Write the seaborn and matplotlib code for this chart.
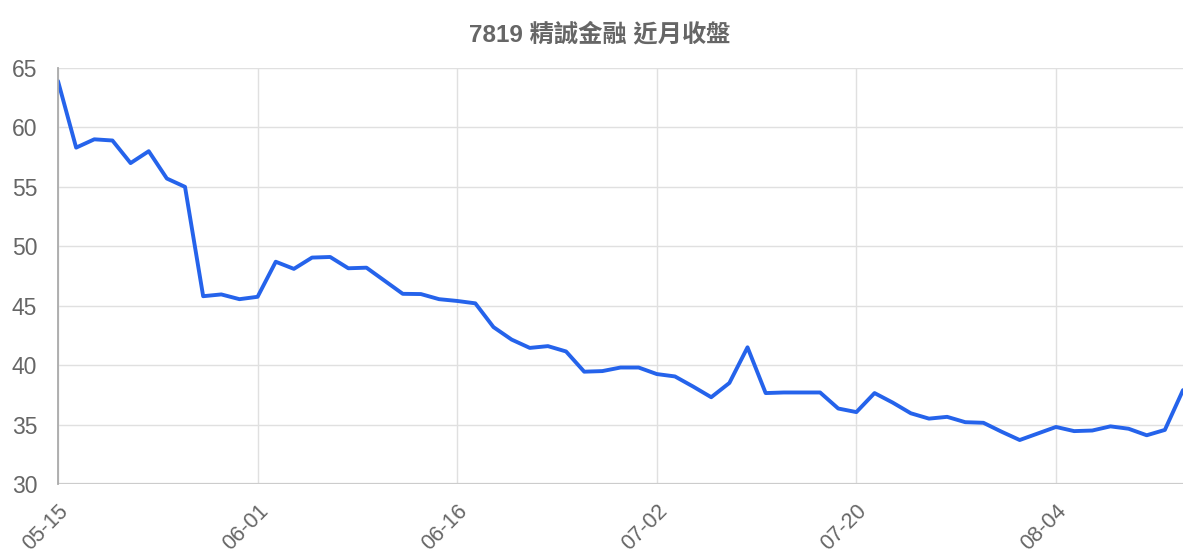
import numpy as np
import pandas as pd
import matplotlib
matplotlib.use("Agg")
import matplotlib.pyplot as plt
import seaborn as sns

# Closing prices (63 trading days)
close = [
    63.9, 58.3, 59.0, 58.9, 57.0, 58.0, 55.7, 55.0, 45.8, 45.95,
    45.55, 45.75, 48.7, 48.1, 49.05, 49.1, 48.15, 48.2, 47.1, 46.0,
    45.98, 45.55, 45.4, 45.2, 43.2, 42.15, 41.45, 41.6, 41.15, 39.45,
    39.5, 39.8, 39.8, 39.25, 39.05, 38.2, 37.3, 38.5, 41.5, 37.65,
    37.7, 37.7, 37.7, 36.35, 36.05, 37.65, 36.85, 35.95, 35.5, 35.65,
    35.2, 35.15, 34.4, 33.7, 34.25, 34.8, 34.45, 34.5, 34.85, 34.65,
    34.1, 34.55, 37.9,
]
tick_labels = ["05-15", "06-01", "06-16", "07-02", "07-20", "08-04"]
tick_step = 11
title = "7819 精誠金融 近月收盤"

df = pd.DataFrame({"day": np.arange(len(close)), "close": close})

sns.set_style("white")
plt.rcParams["font.family"] = ["Liberation Sans", "Noto Sans CJK TC", "DejaVu Sans"]

fig = plt.figure(figsize=(12, 5.6), dpi=100)
ax = fig.add_axes([58 / 1200, 1 - 484 / 560, (1183 - 58) / 1200, (484 - 68) / 560])

sns.lineplot(data=df, x="day", y="close", color="#2563eb", linewidth=2.8, ax=ax)

ax.set_xlim(0, len(close) - 1)
ax.set_ylim(30, 65)
ax.set_yticks(range(30, 66, 5))
ax.set_xticks(range(0, len(close), tick_step))
ax.set_xticklabels(tick_labels, rotation=45, ha="right", rotation_mode="anchor")

ax.grid(True, color="#e0e0e0", linewidth=1)
ax.set_axisbelow(True)
for side in ["top", "right", "bottom"]:
    ax.spines[side].set_visible(False)
ax.spines["left"].set_color("#aaaaaa")
ax.spines["left"].set_linewidth(1.3)
ax.axhline(30, color="#cccccc", linewidth=1.6, zorder=1)

ax.tick_params(axis="y", length=14, color="#e0e0e0", labelcolor="#666666",
               labelsize=16.5, pad=1)
ax.tick_params(axis="x", length=11, color="#e0e0e0", labelcolor="#666666",
               labelsize=15.5, pad=1)
ax.set_xlabel("")
ax.set_ylabel("")

fig.text(0.5, 1 - 35 / 560, title, ha="center", va="center",
         fontsize=17.5, fontweight="bold", color="#666666")

fig.savefig("out.png", dpi=100)
